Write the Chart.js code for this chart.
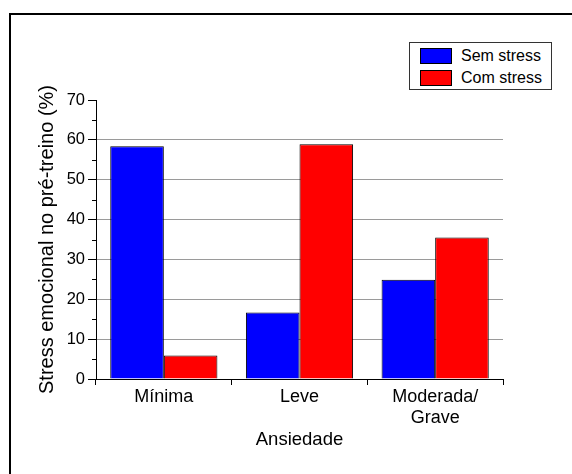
<!DOCTYPE html>
<html>
<head>
<meta charset="utf-8">
<script src="https://cdn.jsdelivr.net/npm/chart.js@4/dist/chart.umd.min.js"></script>
<style>
  html, body { margin: 0; padding: 0; background: #fff; overflow: hidden; }
  #wrap { position: relative; width: 572px; height: 474px; }
  #frame { position: absolute; left: 9px; top: 13px; width: 600px; height: 500px;
           border-left: 2px solid #000; border-top: 2px solid #000; box-sizing: border-box; }
  #chartLegend { position: absolute; left: 409px; top: 42px; width: 143px; height: 48px;
                 border: 1px solid #333; box-sizing: border-box; background: #fff;
                 font-family: 'Liberation Sans', Arial, sans-serif; font-size: 16px; color: #000; }
  #chartLegend div { position: absolute; left: 10px; height: 18px; line-height: 18px; white-space: nowrap; }
  #chartLegend span { display: inline-block; width: 32px; height: 16px; border: 1px solid #000;
                      box-sizing: border-box; vertical-align: top; margin: 1px 9px 0 0; }
  canvas { position: absolute; left: 0; top: 0; }
</style>
</head>
<body>
<div id="wrap">
  <div id="frame"></div>
  <canvas id="chart" width="572" height="474"></canvas>
  <div id="chartLegend"></div>
</div>
<script>
/* anxiety vs pre-training emotional stress — grouped bars */

const categories = ['Mínima', 'Leve', ['Moderada/', 'Grave']];
const seriesNames = ['Sem stress', 'Com stress'];
const semStress = [58.4, 16.7, 24.9];
const comStress = [5.9, 58.9, 35.5];
const yTicks = [0, 10, 20, 30, 40, 50, 60, 70];
const yMinorTicks = [5, 15, 25, 35, 45, 55, 65];
const colors = ['#0000ff', '#ff0000'];

Chart.defaults.font.family = "'Liberation Sans', Arial, sans-serif";
Chart.defaults.color = '#000';

// short minor ticks on the y axis
const minorTicks = {
  id: 'minorTicks',
  afterDraw(chart) {
    const y = chart.scales.y;
    const ctx = chart.ctx;
    ctx.save();
    ctx.strokeStyle = '#000';
    ctx.lineWidth = 1;
    yMinorTicks.forEach(v => {
      const py = Math.round(y.getPixelForValue(v)) + 0.5;
      ctx.beginPath();
      ctx.moveTo(y.right - 4, py);
      ctx.lineTo(y.right, py);
      ctx.stroke();
    });
    ctx.restore();
  }
};

new Chart(document.getElementById('chart'), {
  type: 'bar',
  data: {
    labels: categories,
    datasets: [
      { label: seriesNames[0], data: semStress, backgroundColor: colors[0], borderColor: '#000', borderWidth: 1 },
      { label: seriesNames[1], data: comStress, backgroundColor: colors[1], borderColor: '#000', borderWidth: 1 }
    ]
  },
  options: {
    responsive: false,
    animation: false,
    layout: { padding: { left: 0, top: 100, right: 69, bottom: 0 } },
    plugins: { legend: { display: false }, tooltip: { enabled: false } },
    datasets: { bar: { categoryPercentage: 0.79, barPercentage: 1 } },
    scales: {
      x: {
        afterFit: (s) => { s.height = 95; },
        grid: { display: true, drawOnChartArea: false, offset: true, tickLength: 6, tickColor: '#000' },
        border: { display: true, color: '#000', width: 1 },
        ticks: { font: { size: 18, lineHeight: 1.2 }, padding: 1, maxRotation: 0, autoSkip: false },
        title: { display: true, text: 'Ansiedade', font: { size: 18.5 }, padding: { top: 4, bottom: 23 } }
      },
      y: {
        min: 0, max: 70,
        afterFit: (s) => { s.width = 96; },
        afterBuildTicks: (s) => { s.ticks = yTicks.map(v => ({ value: v })); },
        grid: {
          color: (c) => (c.tick && (c.tick.value === 0 || c.tick.value === 70)) ? 'rgba(0,0,0,0)' : '#9a9a9a',
          tickColor: '#000', tickLength: 8, lineWidth: 1
        },
        border: { display: true, color: '#000', width: 1 },
        ticks: { font: { size: 16.5 }, padding: 3 },
        title: { display: true, text: 'Stress emocional no pré-treino (%)', font: { size: 20 }, padding: { top: 35, bottom: 0 } }
      }
    }
  },
  plugins: [minorTicks]
});

const legend = document.getElementById('chartLegend');
legend.innerHTML = seriesNames.map((l, i) =>
  `<div style="top:${4 + i * 22}px"><span style="background:${colors[i]}"></span>${l}</div>`).join('');
</script>
</body>
</html>
